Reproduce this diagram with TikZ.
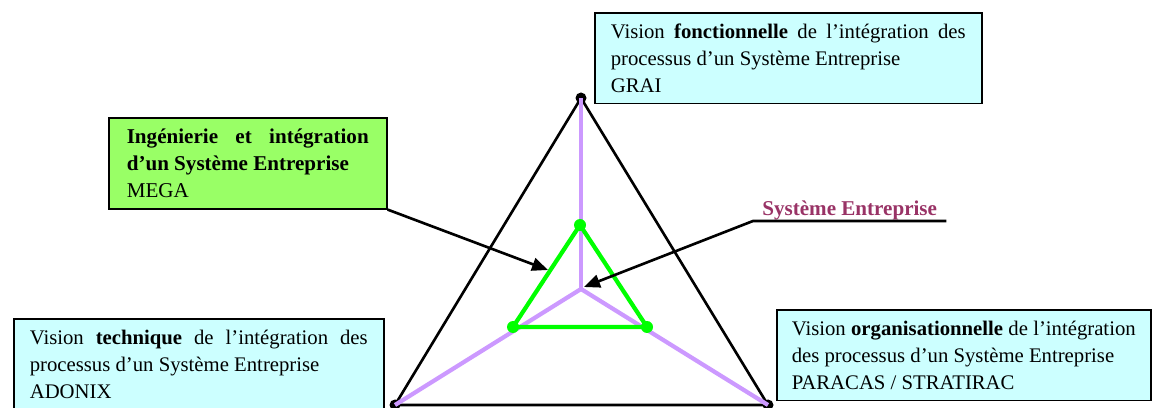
\documentclass[tikz,border=0pt]{standalone}
\usepackage{fontspec}
\setmainfont{Liberation Serif}
\usepackage{xcolor}
\usetikzlibrary{arrows.meta, positioning, calc}
\definecolor{visfill}{RGB}{204,255,255}
\definecolor{ingfill}{RGB}{153,255,102}
\definecolor{axeclr}{RGB}{204,153,255}
\definecolor{sysgreen}{RGB}{0,255,0}
\definecolor{sysclr}{RGB}{153,51,102}

\begin{document}
\begin{tikzpicture}[
  x=0.02cm, y=-0.02cm,
  font=\fontsize{11.8}{15.4}\selectfont,
  vis/.style={rectangle, draw=black, line width=0.9pt, fill=visfill,
              anchor=north west, align=justify, inner xsep=0.32cm, inner ysep=0.22cm},
  ing/.style={vis, fill=ingfill, inner xsep=0.36cm, font=\fontsize{12}{15.4}\selectfont},
  tri/.style={black, line width=1.5pt},
  axe/.style={axeclr, line width=2.4pt},
  sys/.style={sysgreen, line width=2.4pt},
  arr/.style={-{Triangle[length=3.2mm, width=2.6mm]}, line width=1.5pt}
]
\useasboundingbox (0,0) rectangle (1157,408);
%% points of the triangles (pixel grid, y down)
\coordinate (t_top) at (581,98);
\coordinate (t_lft) at (395,405);
\coordinate (t_rgt) at (768,405);
\coordinate (t_ctr) at (581,289);
\coordinate (g_top) at (580,225);
\coordinate (g_lft) at (513,327);
\coordinate (g_rgt) at (647,327);
%% outer triangle
\draw[tri] (t_top) -- (t_lft) -- (t_rgt) -- cycle;
\foreach \p in {t_top, t_lft, t_rgt}
  \fill (\p) circle (0.11cm);
%% axes
\draw[axe] (t_ctr) -- (t_top);
\draw[axe] (t_ctr) -- (t_lft);
\draw[axe] (t_ctr) -- (t_rgt);
%% inner triangle
\draw[sys] (g_top) -- (g_lft) -- (g_rgt) -- cycle;
\foreach \p in {g_top, g_lft, g_rgt}
  \fill[sysgreen] (\p) circle (0.12cm);
%% boxes
\node[vis, text width=7.1cm] (v_fonc) at (594,12)
  {Vision \textbf{fonctionnelle} de l’intégration des\linebreak
   processus d’un Système Entreprise\\GRAI};
\node[ing, text width=4.84cm] (ing_box) at (108,117)
  {\textbf{Ingénierie et intégration\linebreak d’un Système Entreprise}\\MEGA};
\node[vis, text width=6.76cm] (v_tech) at (13,318)
  {Vision \textbf{technique} de l’intégration des\linebreak
   processus d’un Système Entreprise\\ADONIX};
\node[vis, inner xsep=0.3cm, text width=6.88cm] (v_org) at (776,309)
  {Vision \textbf{organisationnelle} de l’intégration\linebreak
   des processus d’un Système Entreprise\\PARACAS / STRATIRAC};
%% label
\node[anchor=south west, text=sysclr, font=\fontsize{12}{13}\selectfont\bfseries,
      inner xsep=0.18cm, inner ysep=0.5pt] (se_lbl) at (753,221) {Système Entreprise};
%% arrows
\coordinate (ing_tip) at (548,270);
\coordinate (se_tip) at (584,287);
\draw[arr] (ing_box.south east) -- (ing_tip);
\draw[arr] (se_lbl.south east) -- (se_lbl.south west) -- (se_tip);
\end{tikzpicture}
\end{document}
